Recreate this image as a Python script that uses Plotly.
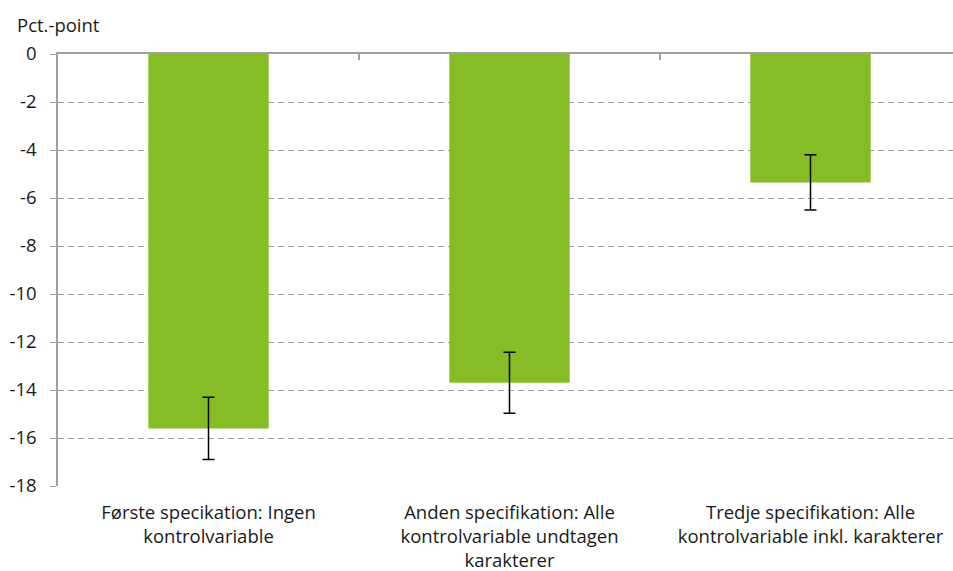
import plotly.graph_objects as go

categories = [
    "Første specikation: Ingen<br>kontrolvariable",
    "Anden specifikation: Alle<br>kontrolvariable undtagen<br>karakterer",
    "Tredje specifikation: Alle<br>kontrolvariable inkl. karakterer",
]
values = [-15.6, -13.7, -5.35]
errors = [1.3, 1.27, 1.15]
y_ticks = [0, -2, -4, -6, -8, -10, -12, -14, -16, -18]

GREEN = "#86BC25"
GRID = "#a0a0a0"
FONT = "Open Sans"
FS = 18.5
XMAX = -0.5 + 895 / 301

fig = go.Figure()
fig.add_trace(go.Bar(
    x=[0, 1, 2], y=values, width=0.4,
    marker=dict(color=GREEN, line=dict(width=0)),
    error_y=dict(type="data", array=errors, visible=True, color="black", thickness=1.5, width=6),
    showlegend=False,
))
# invisible trace to activate top axis
fig.add_trace(go.Scatter(x=[0], y=[0], xaxis="x2", mode="markers", marker=dict(opacity=0),
                         showlegend=False, hoverinfo="skip"))

fig.update_layout(
    width=953, height=571,
    margin=dict(l=58, r=0, t=54, b=85),
    paper_bgcolor="white", plot_bgcolor="white",
    font=dict(family=FONT, size=FS, color="#1a1a1a"),
    xaxis=dict(
        range=[-0.5, XMAX], tickmode="array", tickvals=[0, 1, 2], ticktext=categories,
        showgrid=False, zeroline=False, showline=False, ticks="",
        tickfont=dict(size=FS), ticklabelstandoff=13, automargin=False,
    ),
    xaxis2=dict(
        overlaying="x", side="top", range=[-0.5, XMAX],
        tickmode="array", tickvals=[0.5, 1.5], ticktext=["", ""],
        ticks="inside", ticklen=6, tickcolor="#a0a0a0", tickwidth=1.5,
        showline=True, linecolor="#a0a0a0", linewidth=1.5,
        showgrid=False, zeroline=False, showticklabels=False, automargin=False,
    ),
    yaxis=dict(
        range=[-18, 0], tickmode="array", tickvals=y_ticks, ticktext=[str(v) for v in y_ticks],
        showgrid=True, gridcolor=GRID, griddash="6px,4px", gridwidth=1,
        zeroline=False, showline=True, linecolor="#a0a0a0", linewidth=1.5,
        ticks="outside", ticklen=6, tickcolor="#a0a0a0",
        ticklabelstandoff=10, tickfont=dict(size=FS), automargin=False,
    ),
    annotations=[dict(
        text="Pct.-point", xref="paper", yref="paper", x=-58/895, y=1, xshift=15, yshift=15,
        xanchor="left", yanchor="bottom", showarrow=False, font=dict(size=FS),
    )],
)

fig.write_html(
    "out.html",
    config={"displayModeBar": False},
    post_script="document.body.style.margin='0px';document.body.style.overflow='hidden';",
)
